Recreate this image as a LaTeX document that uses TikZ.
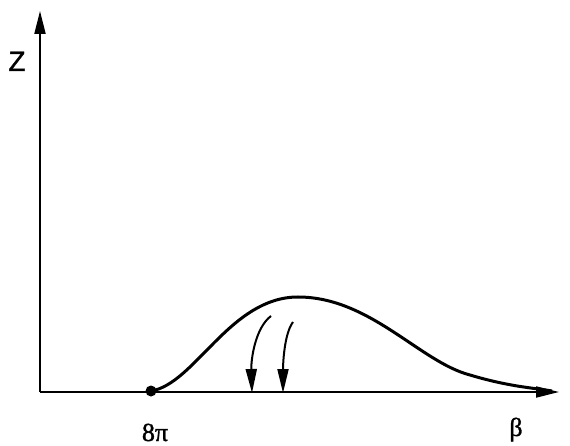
\documentclass[tikz,border=0pt]{standalone}
\usepackage{fontspec}
\setmainfont{Liberation Serif}[FakeBold=1.2]
\newfontfamily\zfont{Liberation Sans}[FakeBold=1.2]
\usetikzlibrary{arrows.meta}
\begin{document}
\begin{tikzpicture}[x=1pt,y=-1pt,
  axis/.style={line width=2pt,-{Triangle[length=23pt,width=11pt]}},
  curvestyle/.style={line width=3pt},
  flowarrow/.style={line width=2pt,-{Triangle[length=24pt,width=11pt]}},
  lbl/.style={inner sep=0pt,anchor=base,font=\fontsize{26}{30}\selectfont}]
\useasboundingbox (0,0) rectangle (570,446);
\coordinate (o) at (40,392);
\coordinate (ytop) at (40,11);
\coordinate (xend) at (559,392);
\draw[axis] (o) -- (ytop);
\draw[axis] (o) -- (xend);
\coordinate (start) at (151,391);
\coordinate (peak) at (298,297);
\coordinate (mid) at (470,375);
\coordinate (tail) at (552,391);
\fill (start) circle (5.5pt);
\draw[curvestyle] (start) .. controls (195,384) and (230,297) .. (peak)
  .. controls (370,297) and (420,362) .. (mid)
  .. controls (510,387) and (535,388) .. (tail);
\coordinate (a1s) at (271,316);
\coordinate (a1e) at (252,393);
\coordinate (a2s) at (293,322);
\coordinate (a2e) at (283,393);
\draw[flowarrow] (a1s) .. controls (255,328) and (251,360) .. (a1e);
\draw[flowarrow] (a2s) .. controls (284,334) and (283,365) .. (a2e);
\node[inner sep=0pt,anchor=base,font=\zfont\fontsize{28}{32}\selectfont] (zl) at (17,71) {Z};
\node[lbl] (pil) at (155,441) {8π};
\node[lbl] (bl) at (516,436) {β};
\end{tikzpicture}
\end{document}
